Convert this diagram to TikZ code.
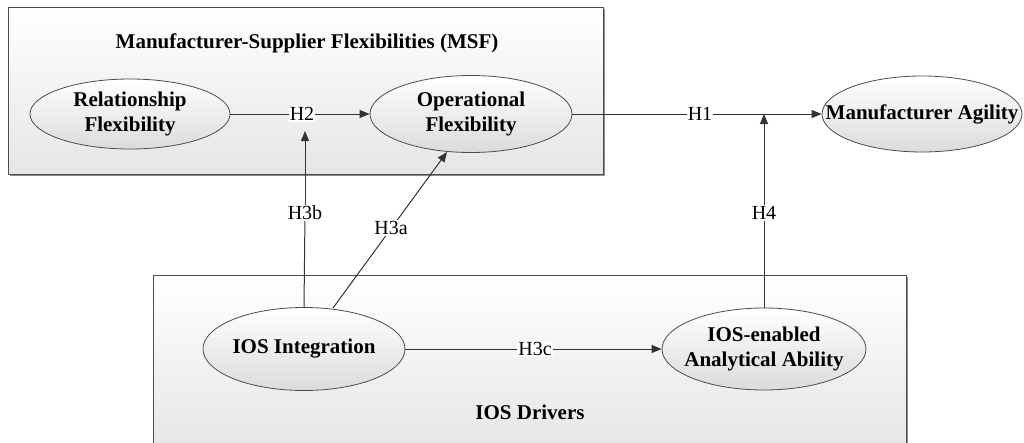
\documentclass[tikz,border=0pt]{standalone}
\usepackage{fontspec}
\setmainfont{Liberation Serif}
\usetikzlibrary{arrows.meta,shapes.geometric,shadows}
\begin{document}
\begin{tikzpicture}[x=1pt,y=-1pt,
  grpbox/.style={draw=black!70,line width=0.8pt,top color=white,bottom color=black!10,
    drop shadow={shadow xshift=2pt,shadow yshift=-2pt,fill=black!45,opacity=1}},
  construct/.style={ellipse,draw=black!70,line width=0.8pt,top color=white,bottom color=black!14,
    font=\fontsize{21}{25}\selectfont\bfseries,align=center,inner xsep=-40pt,inner ysep=-15pt},
  hyp/.style={fill=white,inner sep=1pt,font=\fontsize{20}{22}\selectfont},
  plain/.style={line width=1pt,draw=black!80},
  link/.style={plain,-{Triangle[length=10pt,width=8pt]}},
  grptitle/.style={font=\fontsize{21}{22}\selectfont\bfseries}]
\useasboundingbox[fill=white] (0,0) rectangle (1024,442);
% group boxes
\node[grpbox,minimum width=595pt,minimum height=167pt,anchor=north west,inner sep=0pt] (msf) at (8,7) {};
\node[grpbox,minimum width=753pt,minimum height=175pt,anchor=north west,inner sep=0pt] (ios) at (153,275) {};
\node[grptitle] (msft) at (307,43) {Manufacturer-Supplier Flexibilities (MSF)};
\node[grptitle] (iost) at (530,412) {IOS Drivers};
% constructs
\node[construct,minimum width=200pt,minimum height=70pt] (rel) at (130,114) {Relationship\\Flexibility};
\node[construct,minimum width=202pt,minimum height=77pt] (op) at (471,114) {Operational\\Flexibility};
\node[construct,minimum width=200pt,minimum height=76pt] (ma) at (922,114) {Manufacturer Agility};
\node[construct,minimum width=202pt,minimum height=83pt] (ii) at (304,349) {IOS Integration};
\node[construct,minimum width=204pt,minimum height=82pt] (ia) at (764,349) {IOS-enabled\\Analytical Ability};
% links
\node[hyp] (h2) at (302,114) {H2};
\draw[plain] (rel.east) -- (h2);
\draw[link] (h2) -- (op.west);
\node[hyp] (h1) at (700,114) {H1};
\draw[plain] (op.east) -- (h1);
\draw[link] (h1) -- (ma.west);
\node[hyp] (h3b) at (305,213) {H3b};
\coordinate (h3bend) at (305,131);
\draw[plain] (ii.north) -- (h3b);
\draw[link] (h3b) -- (h3bend);
\coordinate (h1pt) at (764,114);
\node[hyp] (h4) at (764,213) {H4};
\draw[plain] (ia.north) -- (h4);
\draw[link] (h4) -- (h1pt);
\coordinate (h3as) at (333,308);
\coordinate (h3ae) at (447,152);
\draw[link] (h3as) -- (h3ae);
\node[hyp] (h3a) at (391,228) {H3a};
\node[hyp] (h3c) at (535,349) {H3c};
\draw[plain] (ii.east) -- (h3c);
\draw[link] (h3c) -- (ia.west);
\end{tikzpicture}
\end{document}
